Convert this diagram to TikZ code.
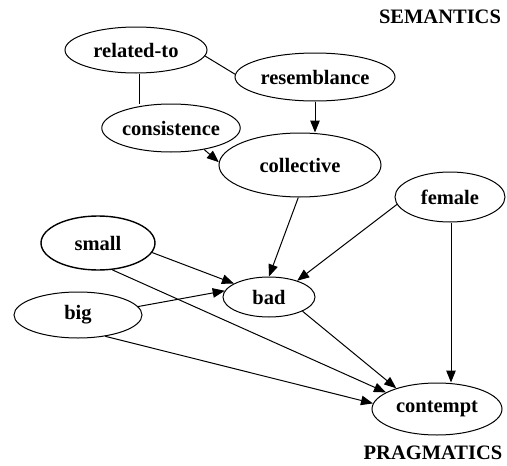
\documentclass[tikz,border=0pt]{standalone}
\usepackage{fontspec}
\setmainfont{Liberation Serif}
\usetikzlibrary{shapes.geometric,arrows.meta}
\begin{document}
\begin{tikzpicture}[x=1pt,y=-1pt,
  concept/.style={ellipse,draw,line width=1pt,inner sep=0pt,
    font=\fontsize{20.5}{22}\selectfont\bfseries},
  link/.style={line width=1pt},
  arc/.style={line width=1pt,-{Triangle[length=12pt,width=9.5pt]}},
  layer/.style={font=\fontsize{20.5}{22}\selectfont\bfseries}]
\useasboundingbox (0,0) rectangle (507,466);

% concepts
\node[concept,minimum width=142pt,minimum height=46pt] (rel) at (136,50) {related-to};
\node[concept,minimum width=160pt,minimum height=48pt] (res) at (315,77) {resemblance};
\node[concept,minimum width=130pt,minimum height=48pt] (con) at (171,128) {consistence};
\node[concept,minimum width=162pt,minimum height=64pt] (col) at (300,165) {collective};
\node[concept,minimum width=110pt,minimum height=50pt] (fem) at (450,197) {female};
\node[concept,line width=1.4pt,minimum width=114pt,minimum height=54pt] (sma) at (98,243) {small};
\node[concept,minimum width=92pt,minimum height=40pt] (bad) at (269,297) {bad};
\node[concept,minimum width=128pt,minimum height=46pt] (big) at (78,315) {big};
\node[concept,minimum width=130pt,minimum height=52pt] (cpt) at (437,409) {contempt};

% layer labels
\node[layer] (sem) at (440,17) {SEMANTICS};
\node[layer] (pra) at (433,453) {PRAGMATICS};

% undirected relations
\draw[link] (rel.-5) -- (res.178);
\draw[link] (rel.south -| 139,0) -- (con.north -| 139,0);

% directed relations
\draw[arc] (res.south -| 315,0) -- (col.north -| 315,0);
\draw[arc] (con.-33) -- (col.178);
\draw[arc] (col.-93) -- (bad.north);
\draw[arc] (fem.188) -- (bad.30);
\draw[arc] (fem.south -| 451,0) -- (cpt.north -| 451,0);
\draw[arc] (sma.-10) -- (bad.159);
\draw[arc] (sma.-62) -- (cpt.162);
\draw[arc] (big.8) -- (bad.172);
\draw[arc] (big.-38) -- (cpt.175);
\draw[arc] (bad.-23) -- (cpt.153);
\end{tikzpicture}
\end{document}
